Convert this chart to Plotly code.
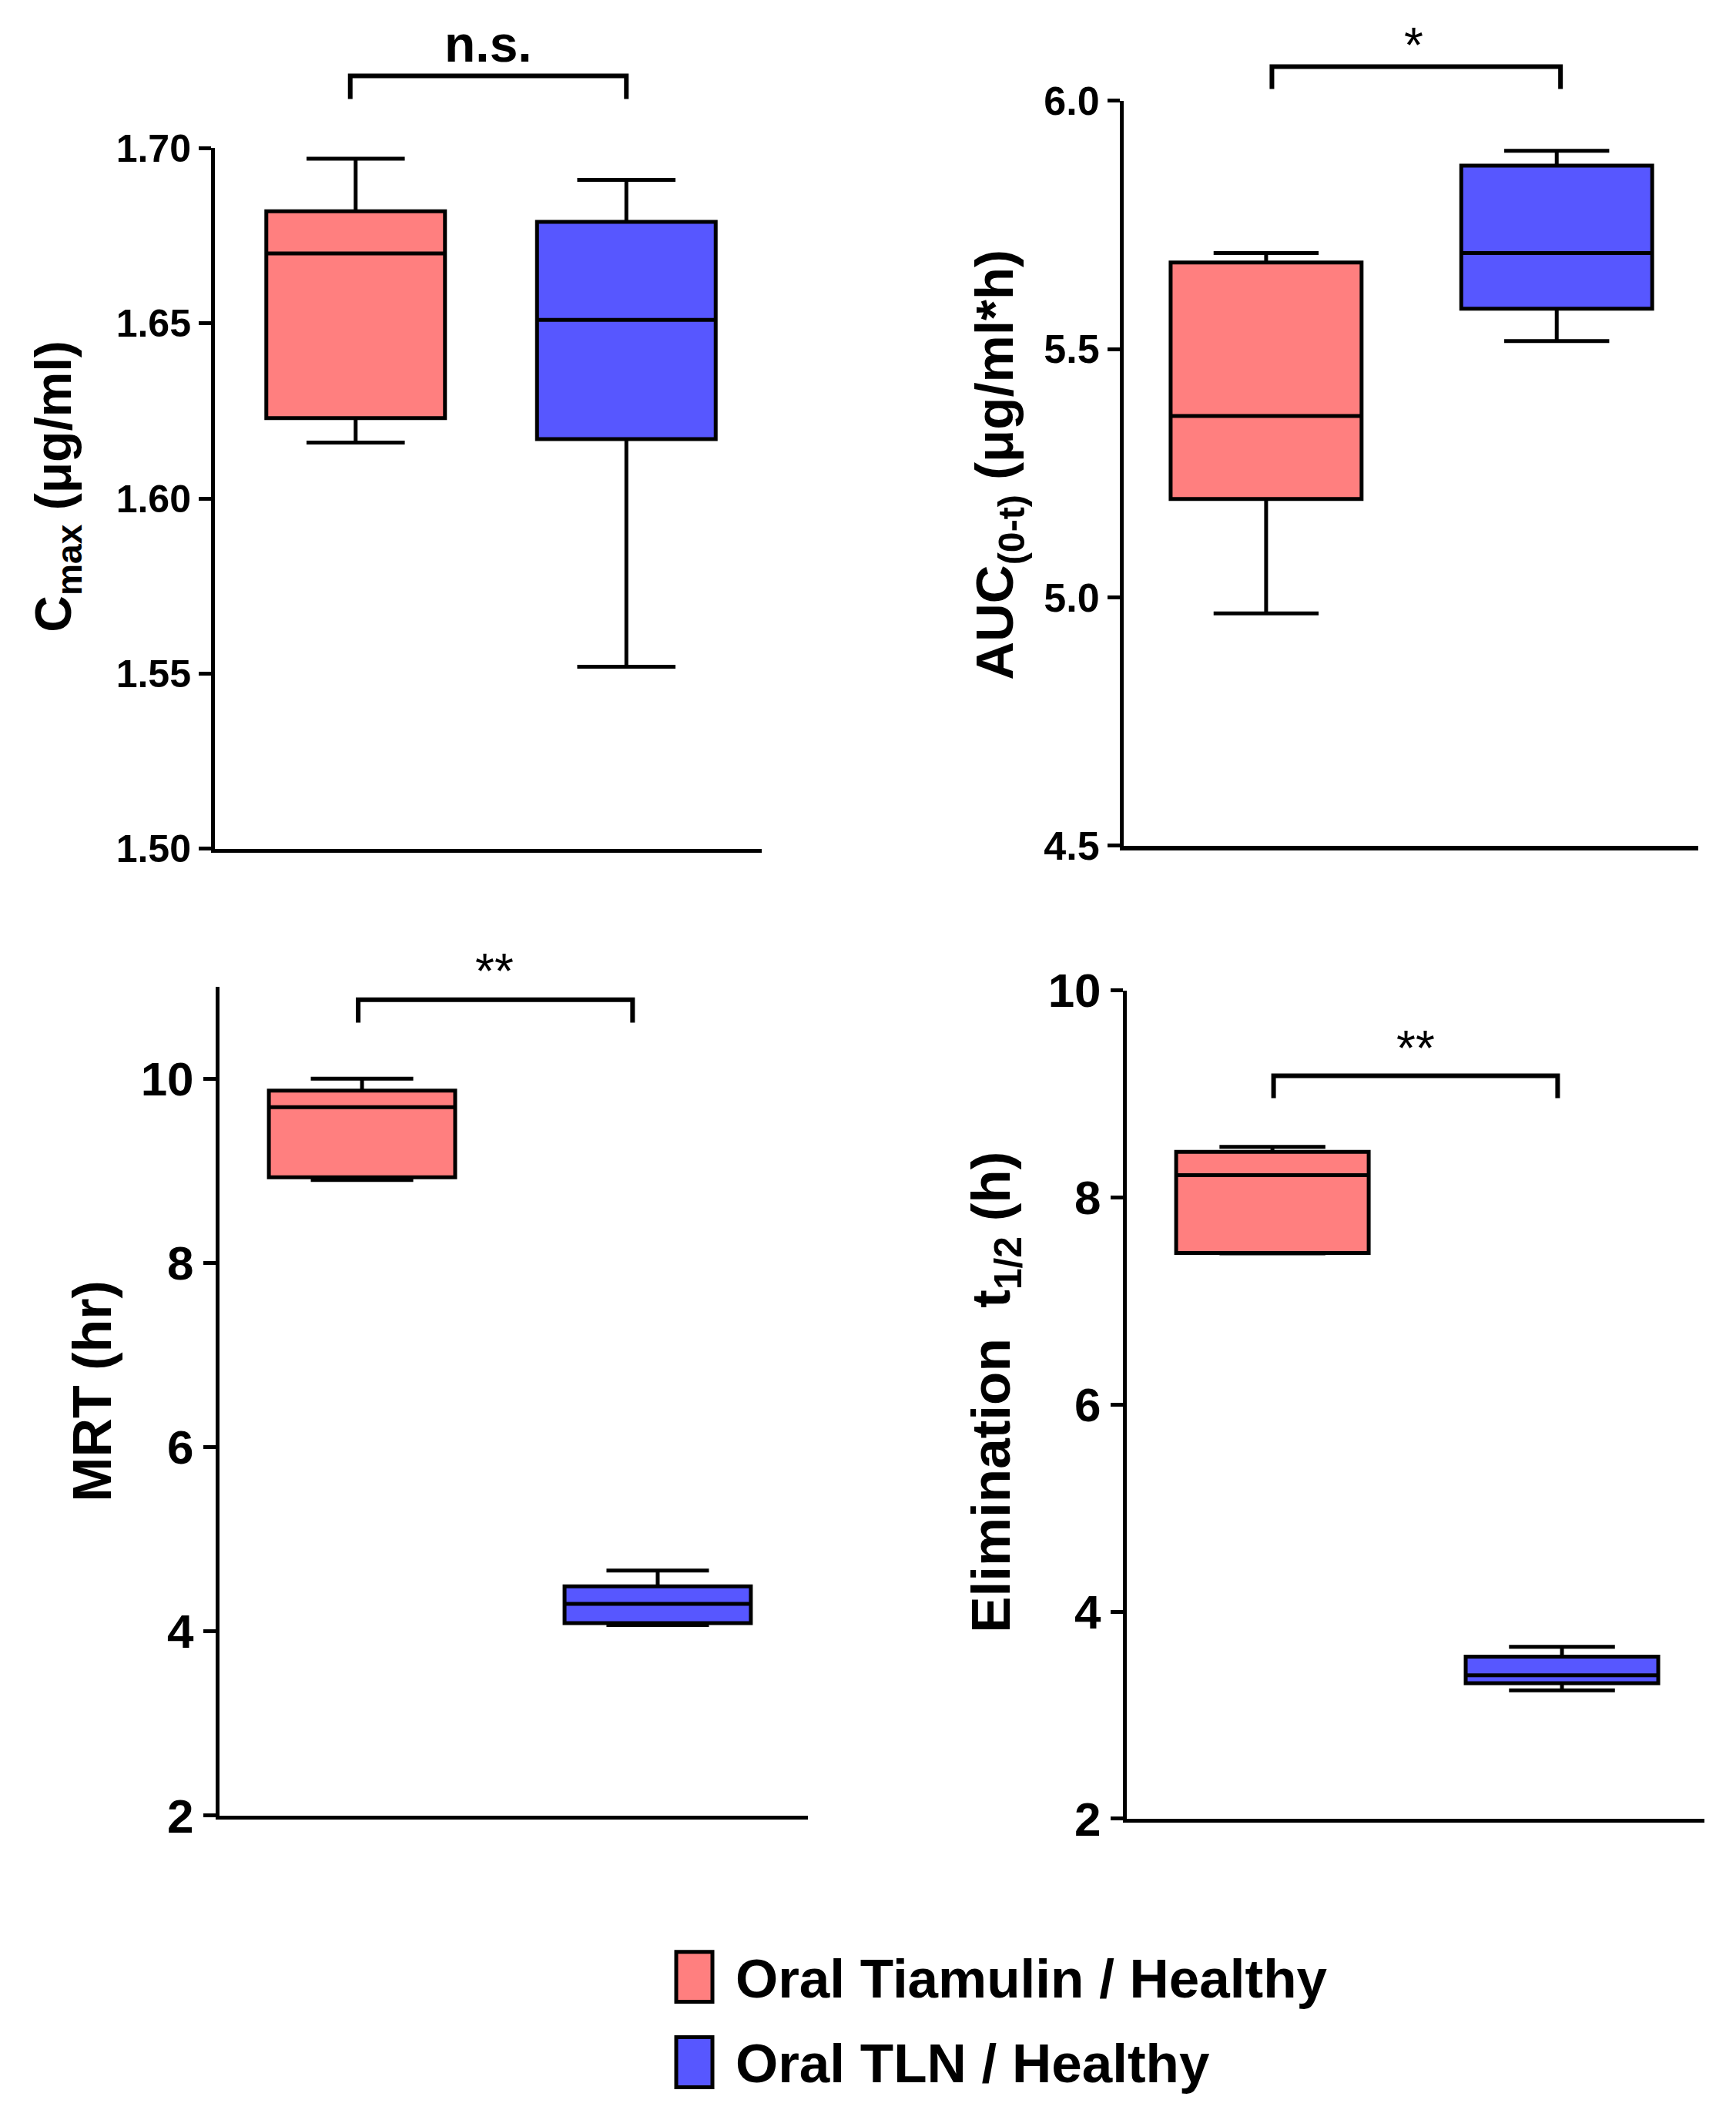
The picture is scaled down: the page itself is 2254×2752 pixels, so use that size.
import plotly.graph_objects as go

# ---------------- data ----------------
groups = ["Oral Tiamulin / Healthy", "Oral TLN / Healthy"]
fill_colors = ["#FF7F7F", "#5757FF"]

cmax_lower = [1.616, 1.552]
cmax_q1 = [1.623, 1.617]
cmax_median = [1.670, 1.651]
cmax_q3 = [1.682, 1.679]
cmax_upper = [1.697, 1.691]

auc_lower = [4.968, 5.516]
auc_q1 = [5.198, 5.581]
auc_median = [5.365, 5.693]
auc_q3 = [5.674, 5.869]
auc_upper = [5.693, 5.899]

mrt_lower = [8.90, 4.07]
mrt_q1 = [8.93, 4.09]
mrt_median = [9.69, 4.30]
mrt_q3 = [9.87, 4.49]
mrt_upper = [10.0, 4.66]

thalf_lower = [7.46, 3.24]
thalf_q1 = [7.465, 3.31]
thalf_median = [8.215, 3.385]
thalf_q3 = [8.44, 3.565]
thalf_upper = [8.49, 3.66]

cmax_ticks = [1.50, 1.55, 1.60, 1.65, 1.70]
auc_ticks = [4.5, 5.0, 5.5, 6.0]
mrt_ticks = [2, 4, 6, 8, 10]
thalf_ticks = [2, 4, 6, 8, 10]

sig_labels = ["n.s.", "*", "**", "**"]

# ---------------- layout helpers ----------------
W, H = 2254, 2752
FONT = "Liberation Sans, Arial, sans-serif"

# empirical correction for page offset / vertical scaling of the capture
X_OFF = 10.0
Y_OFF = 43.3
Y_SCALE = 0.9765


def fx(p):
    return (p - X_OFF) / W


def fy(p):
    return 1 - ((p - Y_OFF) / Y_SCALE) / H


panels = [
    dict(x0=281, x1=991, yt=194, yb=1105, xr=[-0.52, 1.50], yr=[1.50, 1.70], tf=50, fmt=".2f"),
    dict(x0=1461, x1=2207, yt=132, yb=1101, xr=[-0.49, 1.487], yr=[4.5, 6.0], tf=52, fmt=".1f"),
    dict(x0=287, x1=1051, yt=1284, yb=2362, xr=[-0.482, 1.508], yr=[2, 11.0], tf=62, fmt="d"),
    dict(x0=1465, x1=2215, yt=1289, yb=2366, xr=[-0.503, 1.492], yr=[2, 10], tf=62, fmt="d"),
]
tick_sets = [cmax_ticks, auc_ticks, mrt_ticks, thalf_ticks]
stats = [
    (cmax_lower, cmax_q1, cmax_median, cmax_q3, cmax_upper),
    (auc_lower, auc_q1, auc_median, auc_q3, auc_upper),
    (mrt_lower, mrt_q1, mrt_median, mrt_q3, mrt_upper),
    (thalf_lower, thalf_q1, thalf_median, thalf_q3, thalf_upper),
]
box_widths = [0.66, 0.657, 0.63, 0.665]
axis_lw = [5, 6, 5, 5]

fig = go.Figure()

for i, (p, st) in enumerate(zip(panels, stats)):
    n = "" if i == 0 else str(i + 1)
    lo, q1, md, q3, up = st
    for g in range(2):
        fig.add_trace(go.Box(
            x=[g], lowerfence=[lo[g]], q1=[q1[g]], median=[md[g]], q3=[q3[g]], upperfence=[up[g]],
            width=box_widths[i], whiskerwidth=0.55, fillcolor=fill_colors[g],
            line=dict(color="black", width=5), boxpoints=False,
            xaxis="x" + n, yaxis="y" + n, showlegend=False, name=groups[g],
            hoverinfo="skip",
        ))
    fig.layout["xaxis" + n] = dict(
        domain=[fx(p["x0"]), fx(p["x1"])], range=p["xr"], anchor="y" + n,
        showline=True, linewidth=axis_lw[i], linecolor="black", ticks="", showticklabels=False,
        showgrid=False, zeroline=False, fixedrange=True,
    )
    fig.layout["yaxis" + n] = dict(
        domain=[fy(p["yb"]), fy(p["yt"])], range=p["yr"], anchor="x" + n,
        showline=True, linewidth=5, linecolor="black", ticks="outside", ticklen=16,
        tickwidth=5, tickcolor="black", tickvals=tick_sets[i],
        tickformat=p["fmt"], tickfont=dict(family=FONT, size=p["tf"], color="black", weight="bold"),
        showgrid=False, zeroline=False, fixedrange=True,
    )


def data_to_px(p, xd, yd):
    xp = p["x0"] + (xd - p["xr"][0]) / (p["xr"][1] - p["xr"][0]) * (p["x1"] - p["x0"])
    yp = p["yb"] - (yd - p["yr"][0]) / (p["yr"][1] - p["yr"][0]) * (p["yb"] - p["yt"])
    return xp, yp


# bracket geometry: left/right ends and label position in x-data units, heights in px
brackets = [
    dict(xl=-0.02, xr=1.0, xt=0.49, top=100, leg=130, lab=58, size=66, bold=True),
    dict(xl=0.02, xr=1.013, xt=0.509, top=88, leg=117, lab=60, size=64, bold=False),
    dict(xl=-0.013, xr=0.915, xt=0.447, top=1301, leg=1331, lab=1264, size=64, bold=False),
    dict(xl=0.004, xr=0.985, xt=0.495, top=1400, leg=1429, lab=1364, size=64, bold=False),
]
shapes = []
annotations = []
for i, (p, b) in enumerate(zip(panels, brackets)):
    xa, _ = data_to_px(p, b["xl"], p["yr"][0])
    xb, _ = data_to_px(p, b["xr"], p["yr"][0])
    xt, _ = data_to_px(p, b["xt"], p["yr"][0])
    pts = [(xa, b["leg"]), (xa, b["top"]), (xb, b["top"]), (xb, b["leg"])]
    path = "M " + " L ".join(f"{fx(x):.5f},{fy(y):.5f}" for x, y in pts)
    shapes.append(dict(type="path", xref="paper", yref="paper", path=path,
                       line=dict(color="black", width=6)))
    txt = sig_labels[i]
    annotations.append(dict(
        x=fx(xt), y=fy(b["lab"]), xref="paper", yref="paper",
        text=f"<b>{txt}</b>" if b["bold"] else txt, showarrow=False,
        xanchor="center", yanchor="middle",
        font=dict(family=FONT, size=b["size"], color="black"),
    ))

titles = [
    ("<b>C<sub>max</sub> (μg/ml)</b>", 76, 634, 66),
    ("<b>AUC<sub>(0-t)</sub> (μg/ml*h)</b>", 1298, 606, 69),
    ("<b>MRT (hr)</b>", 122, 1810, 70),
    ("<b>Elimination&nbsp;&nbsp;t<sub>1/2</sub> (h)</b>", 1294, 1812, 71),
]
for t, xp, yp, sz in titles:
    annotations.append(dict(
        x=fx(xp), y=fy(yp), xref="paper", yref="paper", text=t, textangle=-90,
        showarrow=False, xanchor="center", yanchor="middle",
        font=dict(family=FONT, size=sz, color="black"),
    ))

leg_rows = [(2539, 2604), (2650, 2715)]
for g, (y0, y1) in enumerate(leg_rows):
    shapes.append(dict(type="rect", xref="paper", yref="paper",
                       x0=fx(880), x1=fx(927), y0=fy(y1), y1=fy(y0),
                       fillcolor=fill_colors[g], line=dict(color="black", width=5)))
    annotations.append(dict(
        x=fx(955), y=fy((y0 + y1) / 2 + 2), xref="paper", yref="paper",
        text=f"<b>{groups[g]}</b>", showarrow=False, xanchor="left", yanchor="middle",
        font=dict(family=FONT, size=71, color="black"),
    ))

fig.update_layout(
    width=W, height=H, margin=dict(l=0, r=0, t=0, b=0),
    paper_bgcolor="white", plot_bgcolor="white",
    shapes=shapes, annotations=annotations, showlegend=False,
    font=dict(family=FONT, color="black"),
)

fig.write_html("out.html")
